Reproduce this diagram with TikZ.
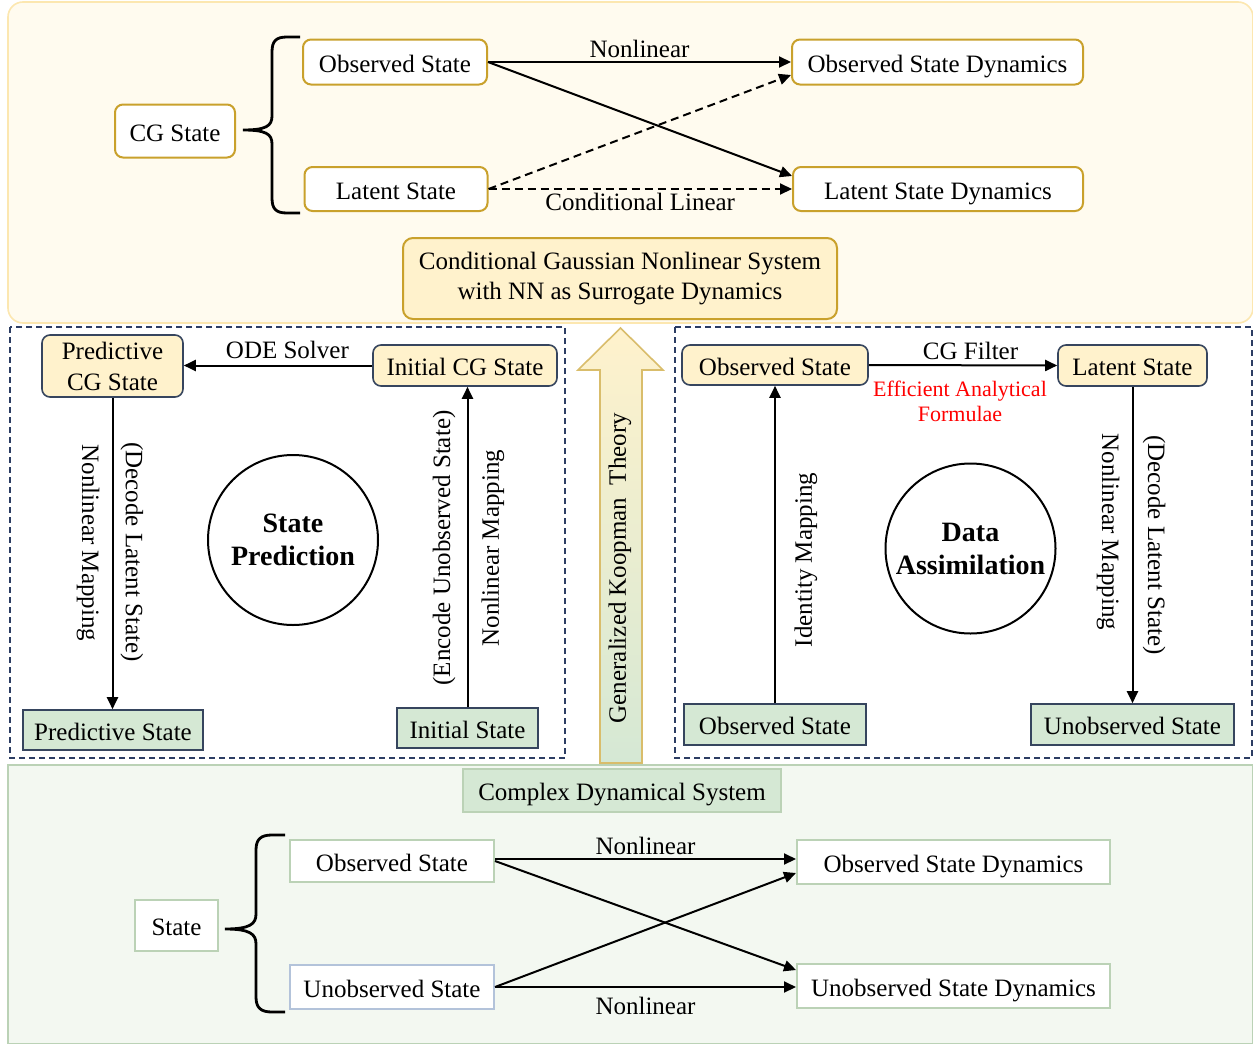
\documentclass[tikz,border=0pt]{standalone}
\usepackage{fontspec}
\setmainfont{Liberation Serif}
\usetikzlibrary{arrows.meta}

\definecolor{panelyellow}{HTML}{FFFBEF}
\definecolor{paneledge}{HTML}{FCE7B0}
\definecolor{cggold}{HTML}{C9A12C}
\definecolor{cgyellow}{HTML}{FFF2CC}
\definecolor{darkedge}{HTML}{36455E}
\definecolor{dashnavy}{HTML}{2C3D63}
\definecolor{cdsgreen}{HTML}{D5E8D4}
\definecolor{panelgreen}{HTML}{F3F8F1}
\definecolor{greenedge}{HTML}{BBD2B6}
\definecolor{blueedge}{HTML}{B3C3DA}

\tikzset{
  box/.style      = {shape=rectangle, draw, align=center, inner sep=0pt,
                     line width=0.8pt},
  oneline/.style  = {text height=12pt, text depth=2pt},
  cgbox/.style    = {box, oneline, rounded corners=4pt, draw=cggold, fill=white,
                     line width=1pt},
  sysbox/.style   = {box, rounded corners=5pt, draw=cggold, fill=cgyellow,
                     line width=1pt},
  ybase/.style    = {box, rounded corners=4pt, draw=darkedge, fill=cgyellow},
  ybox/.style     = {ybase, oneline},
  gbox/.style     = {box, oneline, draw=darkedge, fill=cdsgreen},
  wbox/.style     = {box, oneline, draw=greenedge, fill=white, line width=1pt},
  task/.style     = {shape=circle, draw, line width=1pt, minimum size=85pt,
                     inner sep=0pt, align=center,
                     font=\fontsize{14}{16.5}\selectfont\bfseries},
  dashbox/.style  = {draw=dashnavy, line width=0.6pt,
                     dash pattern=on 3pt off 2pt},
  conn/.style     = {draw, line width=1pt, -{Triangle[length=6pt,width=5.5pt]}},
  dashconn/.style = {conn, dash pattern=on 4pt off 2.5pt},
  bracket/.style  = {draw, line width=1.4pt}
}

\begin{document}
\begin{tikzpicture}
  [
    x                 = 0.5pt,
    y                 = -0.5pt,
    every node/.style = {font=\fontsize{12.5}{15}\selectfont, inner sep=1.5pt}
  ]
  \useasboundingbox (0,0) rectangle (1253,1044);

  % panels
  \draw[fill=panelyellow, draw=paneledge, line width=0.8pt, rounded corners=7.5pt]
    (8,2) rectangle (1253,323);
  \draw[fill=panelgreen, draw=greenedge, line width=0.8pt] (8,765) rectangle (1253,1044);
  \draw[dashbox] (10,327) rectangle (565,758);
  \draw[dashbox] (675,327) rectangle (1252,758);

  % CG nonlinear system
  \node [cgbox, minimum width=60pt, minimum height=26.5pt] (cg) at (175,131) {CG State};
  \node [cgbox, minimum width=92pt, minimum height=22.5pt] (obs) at (395,62) {Observed State};
  \node [cgbox, minimum width=91.5pt, minimum height=22pt] (lat) at (396,189) {Latent State};
  \node [cgbox, minimum width=145.5pt, minimum height=22.5pt] (obsdyn) at (937.5,62) {Observed State Dynamics};
  \node [cgbox, minimum width=145pt, minimum height=22pt] (latdyn) at (938,189) {Latent State Dynamics};
  \node [sysbox, minimum width=217pt, minimum height=40.5pt] (cgns) at (620,278.5)
    {Conditional Gaussian Nonlinear System\\with NN as Surrogate Dynamics};
  \draw[bracket] (300,37) -- (287,37) .. controls (276,37) and (272,41) .. (272,52)
    -- (272,116) .. controls (272,126) and (266,130) .. (243,130)
    .. controls (266,130) and (272,134) .. (272,144) -- (272,198)
    .. controls (272,209) and (276,213) .. (287,213) -- (300,213);
  \draw[conn] (obs.east) -- (obsdyn.west) node[midway, above] {Nonlinear};
  \draw[conn] (obs.east) -- ([yshift=6.5pt]latdyn.west);
  \draw[dashconn] (lat.east) -- ([yshift=-6.5pt]obsdyn.west);
  \draw[dashconn] (lat.east) -- (latdyn.west) node[midway, below] {Conditional Linear};

  % Koopman arrow
  \draw[top color=cgyellow, bottom color=cdsgreen, draw=cggold!70, line width=0.8pt]
    (600,763) -- (600,370) -- (578,370) -- (620.5,328) -- (663,370) -- (642,370)
    -- (642,763) -- cycle;
  \node [rotate=90] (koop) at (620,568) {Generalized Koopman\ \ Theory};

  % state prediction
  \node [ybase, minimum width=70.5pt, minimum height=31pt, font=\fontsize{12.5}{15.5}\selectfont]
    (predcg) at (112.5,366) {Predictive\\CG State};
  \node [ybox, minimum width=92pt, minimum height=20.5pt] (initcg) at (465,365.5) {Initial CG State};
  \node [gbox, minimum width=90pt, minimum height=20pt] (predst) at (113,730) {Predictive State};
  \node [gbox, minimum width=70.5pt, minimum height=20pt] (initst) at (467.5,728) {Initial State};
  \draw[conn] (initcg.west) -- (predcg.east |- initcg.west)
    node[pos=0.45, above, yshift=1.5pt] {ODE Solver};
  \draw[conn] (predcg.south) -- (predcg.south |- predst.north);
  \draw[conn] (initst.north) -- (initst.north |- initcg.south);
  \node [rotate=-90] (nlmap1) at (88,543) {Nonlinear Mapping};
  \node [rotate=-90] (decode1) at (132,552) {(Decode Latent State)};
  \node [rotate=90] (encode) at (444,548) {(Encode Unobserved State)};
  \node [rotate=90] (nlmap2) at (493,548) {Nonlinear Mapping};
  \node [task] (sp) at (293,540) {State\\Prediction};

  % data assimilation
  \node [ybox, minimum width=93pt, minimum height=20pt] (obsy) at (775,365) {Observed State};
  \node [ybox, minimum width=74.5pt, minimum height=20.5pt] (laty) at (1132.5,365.5) {Latent State};
  \node [gbox, minimum width=91pt, minimum height=20.5pt] (obsg) at (775,724.5) {Observed State};
  \node [gbox, minimum width=101.5pt, minimum height=20.5pt] (unobsg) at (1132.5,724.5) {Unobserved State};
  \draw[conn] (obsy.east) -- (laty.west) node[pos=0.54, above, yshift=1pt] {CG Filter};
  \node [text=red, align=center, font=\fontsize{11}{12.5}\selectfont] (eaf) at (960,401)
    {Efficient Analytical\\Formulae};
  \draw[conn] (obsg.north) -- (obsy.south);
  \draw[conn] (laty.south) -- (unobsg.north);
  \node [rotate=90] (idmap) at (806,560) {Identity Mapping};
  \node [rotate=-90] (nlmap3) at (1108,532) {Nonlinear Mapping};
  \node [rotate=-90] (decode2) at (1154,545) {(Decode Latent State)};
  \node [task] (da) at (970.5,548.5) {Data\\Assimilation};

  % complex dynamical system
  \node [box, oneline, draw=greenedge, fill=cdsgreen, minimum width=159pt, minimum height=21.5pt]
    (cds) at (622,790.5) {Complex Dynamical System};
  \node [wbox, minimum width=41.5pt, minimum height=25.5pt] (st) at (176.5,925.5) {State};
  \node [wbox, minimum width=102pt, minimum height=21pt] (obs2) at (392,861) {Observed State};
  \node [wbox, draw=blueedge, minimum width=102pt, minimum height=22pt] (unobs2) at (392,987) {Unobserved State};
  \node [wbox, minimum width=156.5pt, minimum height=22pt] (obsdyn2) at (953.5,862) {Observed State Dynamics};
  \node [wbox, minimum width=156.5pt, minimum height=22pt] (unobsdyn2) at (953.5,986) {Unobserved State Dynamics};
  \draw[bracket] (285,835) -- (272,835) .. controls (261,835) and (256,839) .. (256,850)
    -- (256,914) .. controls (256,924) and (250,929) .. (225,929)
    .. controls (250,929) and (256,934) .. (256,944) -- (256,997)
    .. controls (256,1008) and (261,1012) .. (272,1012) -- (285,1012);
  \draw[conn] ([yshift=1pt]obs2.east) -- ([yshift=1pt]obs2.east -| obsdyn2.west)
    node[midway, above] {Nonlinear};
  \draw[conn] (obs2.east) -- ([yshift=8pt]unobsdyn2.west);
  \draw[conn] (unobs2.east) -- ([yshift=-5.5pt]obsdyn2.west);
  \draw[conn] (unobs2.east) -- (unobs2.east -| unobsdyn2.west)
    node[midway, below, yshift=-3pt] {Nonlinear};
\end{tikzpicture}
\end{document}
